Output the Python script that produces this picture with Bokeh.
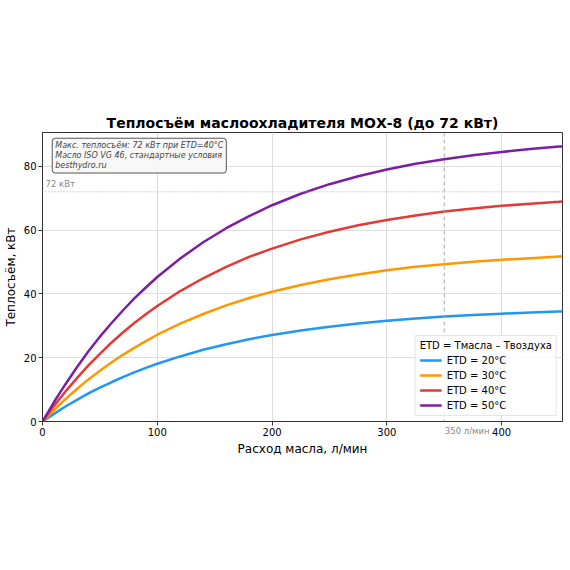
from bokeh.plotting import figure
from bokeh.models import Range1d, Span, Label, Legend, LegendItem, FixedTicker, LinearAxis
from bokeh.embed import file_html
from bokeh.resources import INLINE

# ---- data ----
flow = [0, 10, 20, 30, 40, 50, 60, 70, 80, 90, 100, 120, 140, 160, 180, 200, 225, 250,
        275, 300, 325, 350, 375, 400, 425, 450, 453]
etd20 = [0, 2.4, 4.7, 6.8, 8.8, 10.6, 12.3, 13.9, 15.4, 16.8, 18.1, 20.4, 22.5, 24.2, 25.8, 27.1,
         28.5, 29.7, 30.7, 31.6, 32.3, 32.9, 33.4, 33.8, 34.2, 34.5, 34.5]
etd30 = [0, 3.6, 7.0, 10.2, 13.2, 15.9, 18.5, 20.9, 23.1, 25.2, 27.2, 30.7, 33.7, 36.4, 38.7, 40.7,
         42.8, 44.6, 46.1, 47.4, 48.5, 49.3, 50.1, 50.7, 51.2, 51.7, 51.7]
etd40 = [0, 4.9, 9.4, 13.6, 17.6, 21.2, 24.7, 27.9, 30.9, 33.6, 36.2, 40.9, 44.9, 48.5, 51.6, 54.2,
         57.1, 59.5, 61.5, 63.2, 64.6, 65.8, 66.8, 67.6, 68.3, 68.9, 69.0]
etd50 = [0, 6.1, 11.7, 17.0, 22.0, 26.6, 30.8, 34.8, 38.6, 42.0, 45.3, 51.1, 56.2, 60.6, 64.4, 67.8,
         71.4, 74.4, 76.9, 79.0, 80.8, 82.2, 83.5, 84.5, 85.4, 86.2, 86.2]
series_labels = ["ETD = 20°C", "ETD = 30°C", "ETD = 40°C", "ETD = 50°C"]
series_colors = ["#2196F3", "#FF9800", "#E53935", "#7B1FA2"]
x_ticks = [0, 100, 200, 300, 400]
y_ticks = [0, 20, 40, 60, 80]
max_kw = 72
nominal_flow = 350

FONT = "DejaVu Sans"

p = figure(width=563, height=562, output_backend="svg", toolbar_location=None,
           x_range=Range1d(0, 453), y_range=Range1d(0, 90.6),
           min_border_left=42, min_border_right=1, min_border_top=132, min_border_bottom=141,
           title="Теплосъём маслоохладителя МОХ-8 (до 72 кВт)")
p.title.align = "center"
p.title.text_font = FONT
p.title.text_font_size = "14px"
p.title.text_font_style = "bold"
p.title.text_color = "#000000"
p.title.standoff = 4

p.outline_line_color = "#333333"
p.outline_line_width = 1

for ax in (p.xaxis[0], p.yaxis[0]):
    ax.major_label_text_font = FONT
    ax.major_label_text_font_size = "10px"
    ax.major_label_text_color = "#000000"
    ax.axis_label_text_font = FONT
    ax.axis_label_text_font_size = "12px"
    ax.axis_label_text_font_style = "normal"
    ax.axis_label_text_color = "#000000"
    ax.minor_tick_line_color = None
    ax.major_tick_in = 0
    ax.major_tick_out = 4
    ax.major_tick_line_color = "#333333"
    ax.axis_line_color = "#333333"
    ax.major_label_standoff = 2
    ax.axis_label_standoff = 3

p.xaxis[0].ticker = FixedTicker(ticks=x_ticks)
p.yaxis[0].ticker = FixedTicker(ticks=y_ticks)
p.xaxis[0].axis_label = "Расход масла, л/мин"
p.yaxis[0].axis_label = "Теплосъём, кВт"

p.xgrid.grid_line_color = "#dddddd"
p.ygrid.grid_line_color = "#dddddd"
p.xgrid.ticker = FixedTicker(ticks=x_ticks)
p.ygrid.ticker = FixedTicker(ticks=y_ticks)

# reference lines
p.add_layout(Span(location=max_kw, dimension="width", line_color="#aaaaaa",
                  line_dash="1 2", line_width=1))
p.add_layout(Span(location=nominal_flow, dimension="height", line_color="#aaaaaa",
                  line_dash="4 3", line_width=1))

items = []
for ys, lab, col in zip([etd20, etd30, etd40, etd50], series_labels, series_colors):
    r = p.line(flow, ys, line_color=col, line_width=2.5)
    items.append(LegendItem(label=lab, renderers=[r]))

legend = Legend(items=items, location="bottom_right", title="ETD = Тмасла – Твоздуха")
legend.title_text_font = FONT
legend.title_text_font_size = "10px"
legend.title_text_font_style = "normal"
legend.title_text_color = "#000000"
legend.title_standoff = 3
legend.label_text_font = FONT
legend.label_text_font_size = "10px"
legend.label_text_color = "#000000"
legend.label_height = 12
legend.glyph_height = 12
legend.glyph_width = 22
legend.label_standoff = 5
legend.spacing = 3
legend.padding = 4
legend.margin = 5
legend.border_line_color = "#cccccc"
legend.background_fill_alpha = 0.85
p.add_layout(legend)

# "350 л/мин" note just below the x axis line: a second, label-only axis whose
# label is pulled up next to the main axis line with a negative standoff
note_pos = nominal_flow + 20
note_axis = LinearAxis(ticker=FixedTicker(ticks=[note_pos]),
                       major_label_overrides={note_pos: f"{nominal_flow} л/мин"})
note_axis.axis_line_color = None
note_axis.major_tick_line_color = None
note_axis.minor_tick_line_color = None
note_axis.major_tick_in = 0
note_axis.major_tick_out = 0
note_axis.major_label_standoff = -33
note_axis.major_label_text_font = FONT
note_axis.major_label_text_font_size = "8.5px"
note_axis.major_label_text_color = "#888888"
p.add_layout(note_axis, "below")

# annotations
p.add_layout(Label(x=2.6, y=72.8, text=f"{max_kw} кВт", text_font=FONT, text_font_size="8.5px",
                   text_color="#888888", text_baseline="bottom"))
p.add_layout(Label(x=8.5, y=88.8,
                   text="Макс. теплосъём: 72 кВт при ETD=40°C\nМасло ISO VG 46, стандартные условия\nbesthydro.ru",
                   text_font=FONT, text_font_size="8px", text_font_style="italic",
                   text_color="#444444", text_baseline="top", text_line_height=1.1,
                   background_fill_color="#f7f7f7", background_fill_alpha=0.9,
                   border_line_color="#555555", border_line_width=1, padding=3, border_radius=3))

open("out.html", "w").write(file_html(p, INLINE))
